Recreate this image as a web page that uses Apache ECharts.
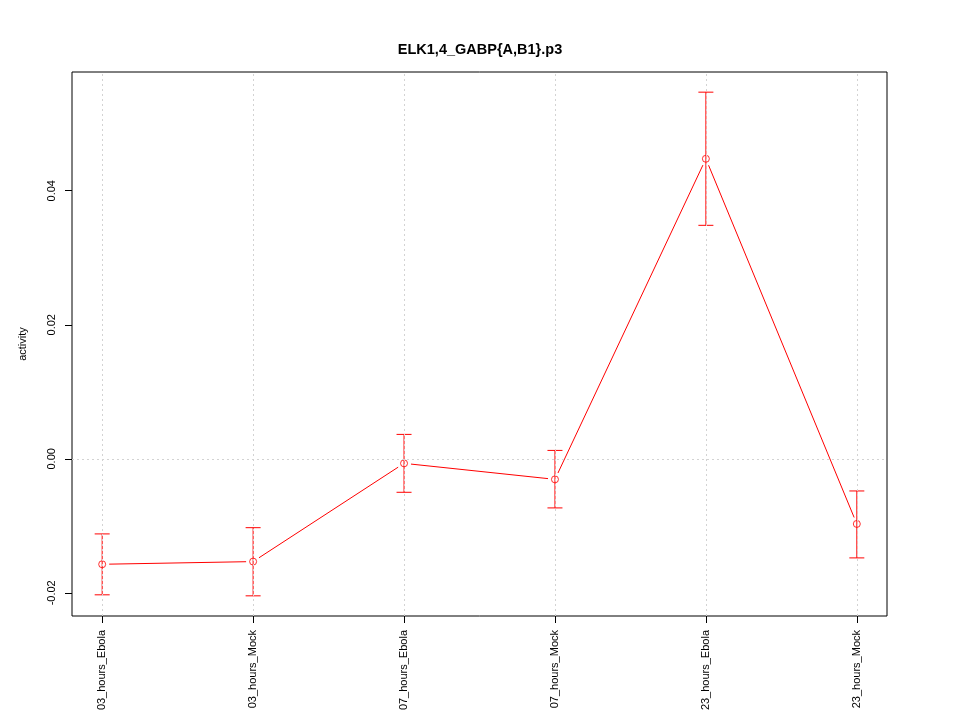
<!DOCTYPE html>
<html>
<head>
<meta charset="utf-8">
<script src="https://cdn.jsdelivr.net/npm/echarts@6/dist/echarts.min.js"></script>
<style>
  html, body { margin: 0; padding: 0; background: #fff; }
  #chart { width: 960px; height: 720px; }
</style>
</head>
<body>
<div id="chart"></div>
<script>
// data
const categories = ['03_hours_Ebola', '03_hours_Mock', '07_hours_Ebola', '07_hours_Mock', '23_hours_Ebola', '23_hours_Mock'];
const activity = [-0.01574, -0.01534, -0.00068, -0.00307, 0.04477, -0.00972];
const upper = [-0.01121, -0.01028, 0.00364, 0.00125, 0.05471, -0.0048];
const lower = [-0.0203, -0.02045, -0.005, -0.00733, 0.03484, -0.01479];
const yTicks = [-0.02, 0, 0.02, 0.04];

const positions = categories.map((c, i) => i);
const points = activity.map((v, i) => [i, v]);
const bars = activity.map((v, i) => [i, lower[i], upper[i]]);
const segs = activity.slice(0, -1).map((v, i) => [i, v, i + 1, activity[i + 1]]);

const red = '#FF0000';
const font = 'Liberation Sans';

var chart = echarts.init(document.getElementById('chart'));
var option = {
    animation: false,
    backgroundColor: '#fff',
    textStyle: { fontFamily: font },
    title: {
        text: 'ELK1,4_GABP{A,B1}.p3',
        left: 'center',
        top: 37,
        textStyle: { fontSize: 14.5, fontWeight: 'bold', color: '#000', fontFamily: font }
    },
    grid: {
        left: 72, right: 73, top: 72, bottom: 104,
        show: true, borderColor: '#000', borderWidth: 1, backgroundColor: 'transparent'
    },
    xAxis: {
        type: 'value',
        min: -0.2,
        max: 5.2,
        axisLine: { show: false, onZero: false },
        splitLine: { show: false },
        axisTick: { show: true, length: 7, customValues: positions, lineStyle: { color: '#000' } },
        axisLabel: {
            customValues: positions,
            rotate: 90,
            margin: 14,
            fontSize: 11,
            color: '#000',
            formatter: v => categories[Math.round(v)]
        }
    },
    yAxis: {
        type: 'value',
        min: -0.02346,
        max: 0.05772,
        name: 'activity',
        nameLocation: 'middle',
        nameGap: 44,
        nameTextStyle: { fontSize: 11, color: '#000' },
        axisLine: { show: false, onZero: false },
        splitLine: { show: false },
        axisTick: { show: true, length: 7, customValues: yTicks, lineStyle: { color: '#000' } },
        axisLabel: {
            customValues: yTicks,
            rotate: 90,
            margin: 15,
            fontSize: 11,
            color: '#000',
            formatter: v => v.toFixed(2)
        }
    },
    series: [
        {
            // reference lines
            type: 'scatter',
            data: [],
            silent: true,
            z: 1,
            markLine: {
                silent: true,
                symbol: 'none',
                label: { show: false },
                lineStyle: { color: '#d3d3d3', type: [2, 3], width: 1 },
                data: positions.map(p => ({ xAxis: p })).concat([{ yAxis: 0 }])
            }
        },
        {
            type: 'custom',
            z: 3,
            data: segs,
            renderItem: function (params, api) {
                var a = api.coord([api.value(0), api.value(1)]);
                var b = api.coord([api.value(2), api.value(3)]);
                var dx = b[0] - a[0], dy = b[1] - a[1];
                var len = Math.sqrt(dx * dx + dy * dy);
                var g = 7;
                return {
                    type: 'line',
                    shape: {
                        x1: a[0] + dx / len * g, y1: a[1] + dy / len * g,
                        x2: b[0] - dx / len * g, y2: b[1] - dy / len * g
                    },
                    style: { stroke: red, lineWidth: 1 }
                };
            }
        },
        {
            type: 'custom',
            z: 3,
            data: bars,
            renderItem: function (params, api) {
                var lo = api.coord([api.value(0), api.value(1)]);
                var hi = api.coord([api.value(0), api.value(2)]);
                var w = 7.5;
                var st = { stroke: red, lineWidth: 1 };
                return {
                    type: 'group',
                    children: [
                        { type: 'line', shape: { x1: lo[0], y1: lo[1], x2: hi[0], y2: hi[1] }, style: st },
                        { type: 'line', shape: { x1: lo[0] - w, y1: lo[1], x2: lo[0] + w, y2: lo[1] }, style: st },
                        { type: 'line', shape: { x1: hi[0] - w, y1: hi[1], x2: hi[0] + w, y2: hi[1] }, style: st }
                    ]
                };
            }
        },
        {
            type: 'scatter',
            z: 4,
            data: points,
            symbol: 'circle',
            symbolSize: 7,
            itemStyle: { color: 'rgba(0,0,0,0)', borderColor: red, borderWidth: 1 }
        }
    ]
};
chart.setOption(option);
</script>
</body>
</html>
